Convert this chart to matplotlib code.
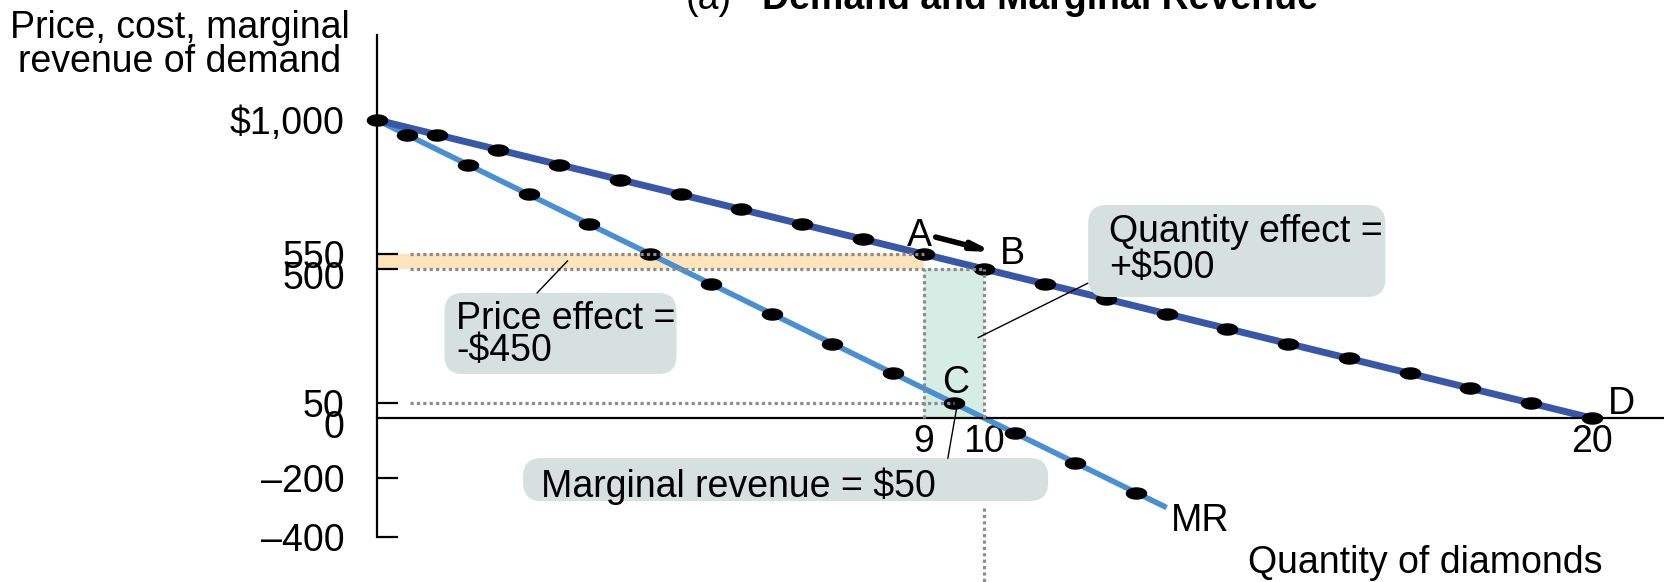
import matplotlib
matplotlib.use('Agg')
import matplotlib.pyplot as plt
from matplotlib.patches import FancyBboxPatch, Rectangle
from matplotlib.transforms import ScaledTranslation
import numpy as np

plt.rcParams['font.family'] = ['Liberation Sans', 'DejaVu Sans']

# demand schedule: price at each quantity 0..20
quantity = list(range(0, 21))
price = [1000, 950, 900, 850, 800, 750, 700, 650, 600, 550, 500,
         450, 400, 350, 300, 250, 200, 150, 100, 50, 0]
# marginal revenue plotted at half units
mr_quantity = [0.5, 1.5, 2.5, 3.5, 4.5, 5.5, 6.5, 7.5, 8.5, 9.5, 10.5, 11.5, 12.5]
mr_values = [950, 850, 750, 650, 550, 450, 350, 250, 150, 50, -50, -150, -250]
mr_line_q = [0, 13]
mr_line_v = [1000, -300]

ytick_vals = [-400, -200, 0, 50, 500, 550, 1000]
ytick_labels = ['\u2013400', '\u2013200', '0', '50', '500', '550', '$1,000']
xtick_vals = [9, 10, 20]
xtick_labels = ['9', '10', '20']

DEMAND_C = '#3a57a6'
MR_C = '#4b8fd0'
ORANGE = '#fde4bd'
TEAL = '#d6ede6'
BOX_C = '#d6e0de'
DOT_GRAY = '#8c8c8c'
FS = 27

fig = plt.figure(figsize=(16.64, 5.82), dpi=100)
ax = fig.add_axes([0, 0, 1, 1])
ax.set_xlim(-6.2, 21.186)
ax.set_ylim(-549.6, 1402.1)

# axes
for s in ['top', 'right']:
    ax.spines[s].set_visible(False)
ax.spines['left'].set_position(('data', 0))
ax.spines['bottom'].set_position(('data', 0))
ax.spines['left'].set_bounds(-400, 1285)
ax.spines['bottom'].set_bounds(0, 21.2)
ax.spines['left'].set_linewidth(1.6)
ax.spines['bottom'].set_linewidth(1.6)

ax.set_yticks(ytick_vals)
ax.set_yticklabels(ytick_labels)
ax.tick_params(axis='y', direction='in', length=15, width=1.6, pad=23, labelsize=FS)
for t, v in zip(ax.yaxis.get_major_ticks(), ytick_vals):
    if v in (0, 1000):
        t.tick1line.set_visible(False)
    if v in (0, 500):
        # the original nudges these two labels down a little
        lab = t.label1
        lab.set_transform(lab.get_transform() + ScaledTranslation(0, -4 / 72, fig.dpi_scale_trans))
ax.set_xticks(xtick_vals)
ax.set_xticklabels(xtick_labels)
ax.tick_params(axis='x', length=0, pad=4, labelsize=FS)

# shaded areas
ax.add_patch(Rectangle((0, 500), 9, 50, facecolor=ORANGE, edgecolor='none', zorder=1))
ax.add_patch(Rectangle((9, 0), 1, 500, facecolor=TEAL, edgecolor='none', zorder=1))

# curves
ellipse = [(np.cos(t), 0.55 * np.sin(t)) for t in np.linspace(0, 2 * np.pi, 40)]
ax.plot(mr_line_q, mr_line_v, color=MR_C, lw=4, zorder=2, solid_capstyle='butt')
ax.plot(quantity, price, color=DEMAND_C, lw=5, zorder=2.2, solid_capstyle='butt')
ax.plot(mr_quantity, mr_values, ls='none', marker=ellipse, ms=14.5, color='black', zorder=3)
ax.plot(quantity, price, ls='none', marker=ellipse, ms=14.5, color='black', zorder=3)

# dotted guide lines
dot_kw = dict(color=DOT_GRAY, lw=2.3, dashes=(1, 1), zorder=4)
ax.plot([0.55, 9], [550, 550], **dot_kw)
ax.plot([0.55, 10], [500, 500], **dot_kw)
ax.plot([0.55, 9.5], [50, 50], **dot_kw)
ax.plot([9, 9], [0, 500], **dot_kw)
ax.plot([10, 10], [0, 500], **dot_kw)
ax.plot([10, 10], [-300, -560], **dot_kw)

# arrow A -> B
ax.annotate('', xy=(10.15, 557), xytext=(9.2, 607),
            arrowprops=dict(arrowstyle='-|>,head_length=1.0,head_width=0.22',
                            lw=4, color='black', shrinkA=0, shrinkB=0), zorder=5)

# point labels
ax.text(8.93, 576, 'A', fontsize=FS, ha='center', va='baseline')
ax.text(10.25, 516, 'B', fontsize=FS, ha='left', va='baseline')
ax.text(9.52, 85, 'C', fontsize=FS, ha='center', va='baseline')
ax.text(20.26, 14, 'D', fontsize=FS, ha='left', va='baseline')
ax.text(13.07, -377, 'MR', fontsize=FS, ha='left', va='baseline')

# annotation boxes
asp = 60.76 / 0.2982
def box(x0, x1, y0, y1):
    p = FancyBboxPatch((x0, y0), x1 - x0, y1 - y0,
                       boxstyle='round,pad=0,rounding_size=0.3',
                       mutation_aspect=asp, facecolor=BOX_C, edgecolor='none', zorder=5)
    ax.add_patch(p)

box(1.115, 4.934, 148, 419.5)
box(11.71, 16.60, 406, 714.6)
box(2.41, 11.05, -278, -134)

ax.text(1.31, 299, 'Price effect =', fontsize=FS, va='baseline', zorder=6)
ax.text(1.31, 190, '-$450', fontsize=FS, va='baseline', zorder=6)
ax.text(12.05, 590, 'Quantity effect =', fontsize=FS, va='baseline', zorder=6)
ax.text(12.05, 470, '+$500', fontsize=FS, va='baseline', zorder=6)
ax.text(2.70, -265, 'Marginal revenue = $50', fontsize=FS, va='baseline', zorder=6)

# leader lines
ax.plot([2.64, 3.14], [420, 527], color='black', lw=1, zorder=6)
ax.plot([11.70, 9.90], [452, 270], color='black', lw=1, zorder=6)
ax.plot([9.40, 9.55], [-134, 40], color='black', lw=1, zorder=6)

# axis titles
ax.text(-3.24, 1275, 'Price, cost, marginal', fontsize=FS, ha='center', va='baseline')
ax.text(-3.24, 1161, 'revenue of demand', fontsize=FS, ha='center', va='baseline')
ax.text(17.26, -519, 'Quantity of diamonds', fontsize=FS, ha='center', va='baseline')

# panel title (cut at the top edge)
ax.text(5.85, 1372, '(a)', fontsize=FS, ha='right', va='baseline')
ax.text(10.92, 1372, 'Demand and Marginal Revenue', fontsize=FS, fontweight='bold',
        ha='center', va='baseline')

fig.savefig('out.png', dpi=100)
